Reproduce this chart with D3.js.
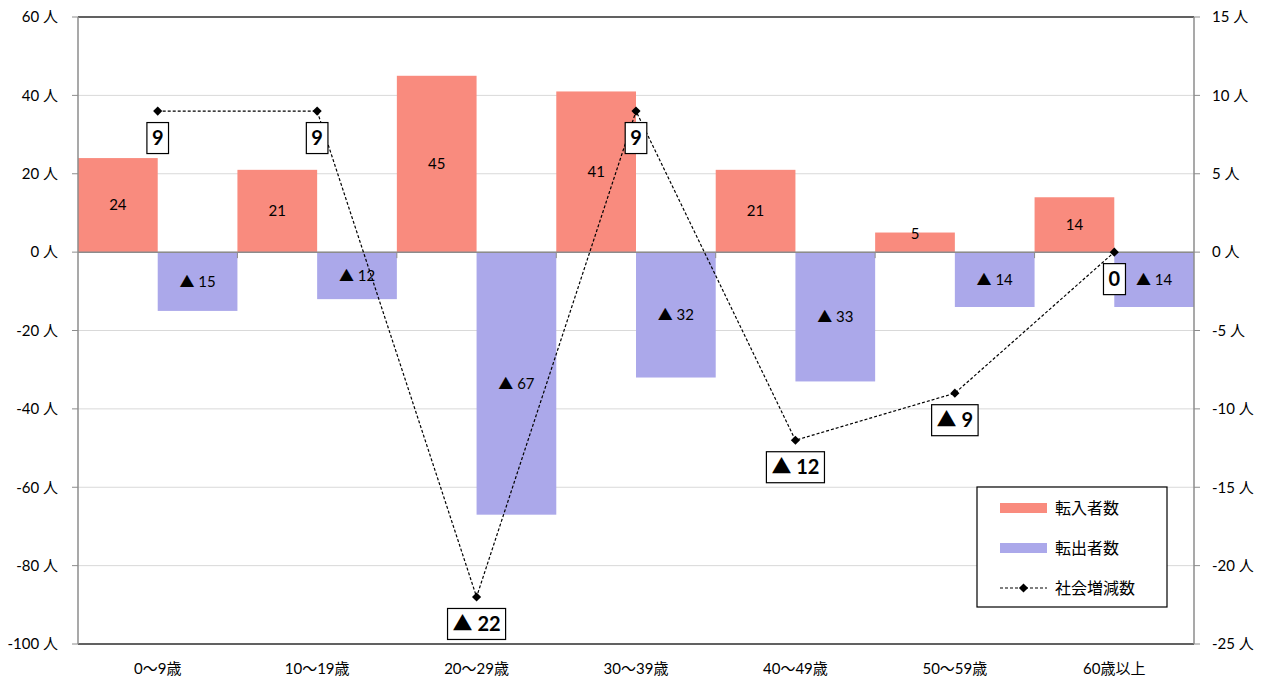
<!DOCTYPE html>
<html>
<head>
<meta charset="utf-8">
<script src="https://cdn.jsdelivr.net/npm/d3@7"></script>
<style>
  body { margin: 0; background: #fff; }
  text { font-family: Lato, "Noto Sans CJK JP", sans-serif; }
</style>
</head>
<body>
<div id="chart"></div>
<script>
const categories = ["0～9歳", "10～19歳", "20～29歳", "30～39歳", "40～49歳", "50～59歳", "60歳以上"];
const inflow = [24, 21, 45, 41, 21, 5, 14];
const outflow = [-15, -12, -67, -32, -33, -14, -14];
const netChange = [9, 9, -22, 9, -12, -9, 0];
const leftTicks = [60, 40, 20, 0, -20, -40, -60, -80, -100];
const rightTicks = [15, 10, 5, 0, -5, -10, -15, -20, -25];

const W = 1270, H = 684;
const margin = { top: 17, right: 76, bottom: 40, left: 78 };
const width = W - margin.left - margin.right;
const height = H - margin.top - margin.bottom;

const red = "#f98b7e", blue = "#aba8ea";

const svg = d3.select("#chart").append("svg").attr("width", W).attr("height", H);
const g = svg.append("g").attr("transform", `translate(${margin.left},${margin.top})`);

const x = d3.scaleBand().domain(categories).range([0, width]).padding(0);
const yL = d3.scaleLinear().domain([-100, 60]).range([height, 0]);
const yR = d3.scaleLinear().domain([-25, 15]).range([height, 0]);

const fmtBar = v => (v < 0 ? "▲ " + Math.abs(v) : String(v));

// Gridlines
g.selectAll(".grid")
  .data(leftTicks)
  .enter()
  .append("line")
  .attr("x1", 0)
  .attr("x2", width)
  .attr("y1", d => yL(d))
  .attr("y2", d => yL(d))
  .style("stroke", "#d9d9d9")
  .style("stroke-width", 1);

// Bars
const bw = x.bandwidth() / 2;
g.selectAll(".in-bar")
  .data(inflow)
  .enter()
  .append("rect")
  .attr("x", (d, i) => x(categories[i]))
  .attr("y", d => yL(Math.max(d, 0)))
  .attr("width", bw)
  .attr("height", d => Math.abs(yL(d) - yL(0)))
  .style("fill", red);

g.selectAll(".out-bar")
  .data(outflow)
  .enter()
  .append("rect")
  .attr("x", (d, i) => x(categories[i]) + bw)
  .attr("y", d => yL(Math.max(d, 0)))
  .attr("width", bw)
  .attr("height", d => Math.abs(yL(d) - yL(0)))
  .style("fill", blue);

// Zero line + category ticks
g.append("line")
  .attr("x1", 0).attr("x2", width)
  .attr("y1", yL(0)).attr("y2", yL(0))
  .style("stroke", "#8c8c8c").style("stroke-width", 1.5);
g.selectAll(".ctick")
  .data(categories.slice(1))
  .enter()
  .append("line")
  .attr("x1", d => x(d)).attr("x2", d => x(d))
  .attr("y1", yL(0)).attr("y2", yL(0) + 6)
  .style("stroke", "#8c8c8c").style("stroke-width", 1);

// Axes frame
g.append("line").attr("x1", 0).attr("x2", width).attr("y1", 0).attr("y2", 0)
  .style("stroke", "#333").style("stroke-width", 1.5);
g.append("line").attr("x1", 0).attr("x2", width).attr("y1", height).attr("y2", height)
  .style("stroke", "#333").style("stroke-width", 1.5);
g.append("line").attr("x1", 0).attr("x2", 0).attr("y1", 0).attr("y2", height)
  .style("stroke", "#8c8c8c").style("stroke-width", 1.5);
g.append("line").attr("x1", width).attr("x2", width).attr("y1", 0).attr("y2", height)
  .style("stroke", "#8c8c8c").style("stroke-width", 1.5);

// Left axis ticks/labels
g.selectAll(".ltick")
  .data(leftTicks)
  .enter()
  .append("line")
  .attr("x1", -6).attr("x2", 0)
  .attr("y1", d => yL(d)).attr("y2", d => yL(d))
  .style("stroke", "#8c8c8c");
g.selectAll(".llabel")
  .data(leftTicks)
  .enter()
  .append("text")
  .attr("x", -20)
  .attr("y", d => yL(d))
  .attr("dy", "0.35em")
  .style("text-anchor", "end")
  .style("font-size", "15px")
  .style("fill", "#000")
  .text(d => d + " 人");

// Right axis ticks/labels
g.selectAll(".rtick")
  .data(rightTicks)
  .enter()
  .append("line")
  .attr("x1", width).attr("x2", width + 6)
  .attr("y1", d => yR(d)).attr("y2", d => yR(d))
  .style("stroke", "#8c8c8c");
g.selectAll(".rlabel")
  .data(rightTicks)
  .enter()
  .append("text")
  .attr("x", width + 18)
  .attr("y", d => yR(d))
  .attr("dy", "0.35em")
  .style("text-anchor", "start")
  .style("font-size", "15px")
  .style("fill", "#000")
  .text(d => d + " 人");

// Category labels
g.selectAll(".clabel")
  .data(categories)
  .enter()
  .append("text")
  .attr("x", d => x(d) + x.bandwidth() / 2)
  .attr("y", height + 25)
  .attr("dy", "0.35em")
  .style("text-anchor", "middle")
  .style("font-size", "15px")
  .text(d => d);

// Bar labels (centred, but kept clear of the zero line on short bars)
g.selectAll(".in-label")
  .data(inflow)
  .enter()
  .append("text")
  .attr("x", (d, i) => x(categories[i]) + bw / 2)
  .attr("y", d => Math.min((yL(d) + yL(0)) / 2, yL(0) - 18))
  .attr("dy", "0.35em")
  .style("text-anchor", "middle")
  .style("font-size", "15px")
  .text(fmtBar);

g.selectAll(".out-label")
  .data(outflow)
  .enter()
  .append("text")
  .attr("x", (d, i) => x(categories[i]) + bw * 1.5)
  .attr("y", d => (yL(d) + yL(0)) / 2)
  .attr("dy", "0.35em")
  .style("text-anchor", "middle")
  .style("font-size", "15px")
  .text(fmtBar);

// Net change line
const line = d3.line()
  .x((d, i) => x(categories[i]) + x.bandwidth() / 2)
  .y(d => yR(d));

g.append("path")
  .datum(netChange)
  .attr("d", line)
  .style("fill", "none")
  .style("stroke", "#000")
  .style("stroke-width", 1.2)
  .style("stroke-dasharray", "3,2");

const diamond = d3.symbol().type(d3.symbolSquare).size(42);
g.selectAll(".net-dot")
  .data(netChange)
  .enter()
  .append("path")
  .attr("d", diamond)
  .attr("transform", (d, i) => `translate(${x(categories[i]) + x.bandwidth() / 2},${yR(d)}) rotate(45)`)
  .style("fill", "#000");

// Boxed net labels
const netLabels = g.selectAll(".net-label")
  .data(netChange)
  .enter()
  .append("g")
  .attr("transform", (d, i) => `translate(${x(categories[i]) + x.bandwidth() / 2},${yR(d) + 27})`);

netLabels.append("text")
  .attr("dy", "0.35em")
  .style("text-anchor", "middle")
  .style("font-size", "20px")
  .style("font-weight", "bold")
  .text(fmtBar);

netLabels.each(function () {
  const sel = d3.select(this);
  const bb = sel.select("text").node().getBBox();
  sel.insert("rect", "text")
    .attr("x", bb.x - 5)
    .attr("y", -15.5)
    .attr("width", bb.width + 10)
    .attr("height", 31)
    .style("fill", "#fff")
    .style("stroke", "#000")
    .style("stroke-width", 1.2);
});

// Legend
const legend = svg.append("g").attr("transform", "translate(977,487)");
legend.append("rect")
  .attr("width", 190).attr("height", 120)
  .style("fill", "#fff").style("stroke", "#000").style("stroke-width", 1.2);

const legendItems = ["転入者数", "転出者数", "社会増減数"];
legendItems.forEach((name, i) => {
  const ly = 21 + i * 40;
  if (i < 2) {
    legend.append("rect")
      .attr("x", 23).attr("y", ly - 5)
      .attr("width", 47).attr("height", 10)
      .style("fill", i === 0 ? red : blue);
  } else {
    legend.append("line")
      .attr("x1", 23).attr("x2", 70)
      .attr("y1", ly).attr("y2", ly)
      .style("stroke", "#000").style("stroke-width", 1.2)
      .style("stroke-dasharray", "3,2");
    legend.append("path")
      .attr("d", diamond)
      .attr("transform", `translate(46.5,${ly}) rotate(45)`)
      .style("fill", "#000");
  }
  legend.append("text")
    .attr("x", 78).attr("y", ly)
    .attr("dy", "0.35em")
    .style("font-size", "16px")
    .text(name);
});
</script>
</body>
</html>
